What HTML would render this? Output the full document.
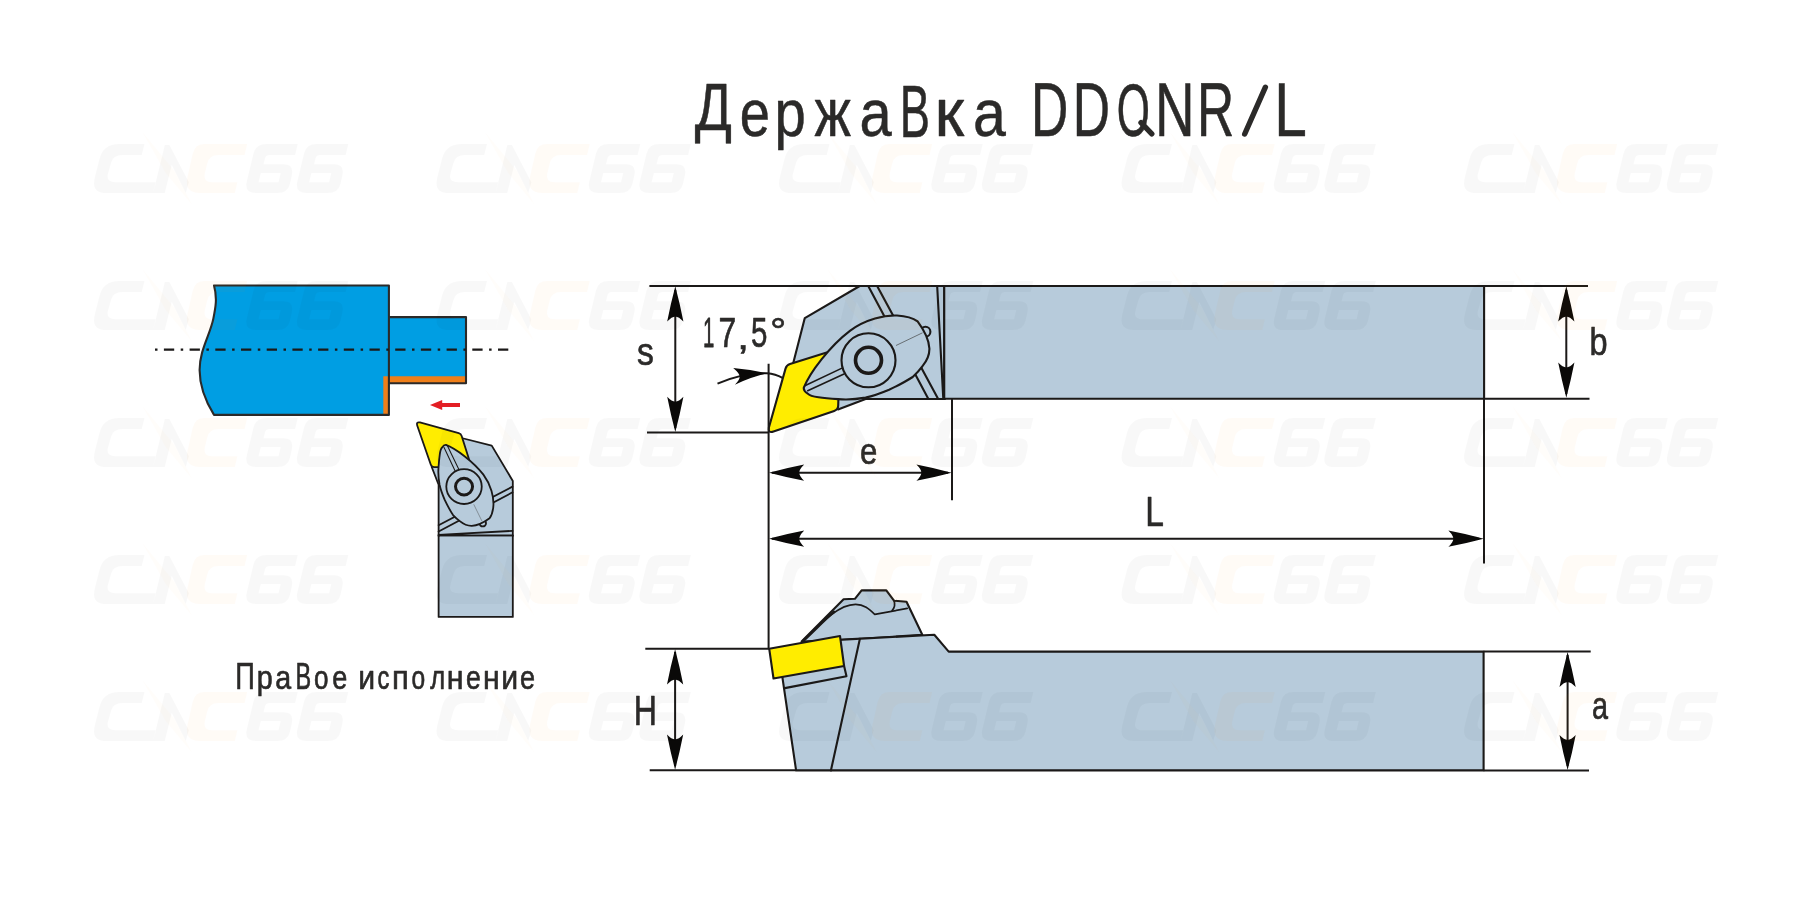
<!DOCTYPE html>
<html lang="ru">
<head>
<meta charset="utf-8">
<title>Державка DDQNR/L</title>
<style>
html,body{margin:0;padding:0;background:#fff;}
body{width:1800px;height:917px;overflow:hidden;position:relative;font-family:"Liberation Sans",sans-serif;}
svg{position:absolute;left:0;top:0;display:block;}
text{font-family:"Liberation Sans",sans-serif;fill:#2b2a29;stroke:#2b2a29;vector-effect:non-scaling-stroke;stroke-linejoin:round;}
.t1 text{stroke-width:0.5px;}
.t2 text{stroke-width:0.6px;}
.t3 text{stroke-width:0.6px;}
.t1,.t2,.t3{mix-blend-mode:multiply;}
.o{stroke:#1b1918;stroke-width:var(--sw,2.1);stroke-linejoin:round;stroke-linecap:round;}
.g{fill:#b7cbdb;}
.y{fill:#ffed00;}
.n{fill:none;}
.d{stroke:#1b1918;stroke-width:2;fill:none;}
.ah{fill:#0a0908;stroke:none;}
</style>
</head>
<body>
<svg width="1800" height="917" viewBox="0 0 1800 917">
<defs>
  <!-- arrow head: tip at 0,0 pointing up (toward -y) -->
  <path id="ah" d="M0,0 Q4.5,17 8.1,35.2 Q3.5,30.4 0,30.2 Q-3.5,30.4 -8.1,35.2 Q-4.5,17 0,0 Z"/>
  <!-- watermark logo -->
  <g id="wm" transform="scale(0.15556)"><path fill="rgba(0,0,0,0.027)" fill-rule="evenodd" d="M415,155 L250,155 Q150,155 125,250 L95,370 Q70,470 170,470 L470,470 L488,400 L230,400 Q165,400 180,345 L200,275 Q212,225 275,225 L397,225 Z M470,470 L545,470 L590,290 L680,470 L700,400 L575,160 L545,160 Z M1400,155 L1195,155 Q1130,155 1115,215 L1072,395 Q1055,470 1130,470 L1270,470 Q1335,470 1350,410 L1362,355 Q1377,285 1310,285 L1180,285 L1190,245 Q1195,225 1220,225 L1383,225 Z M1163,340 L1290,340 L1276,400 L1148,400 Z M1725,155 L1520,155 Q1455,155 1440,215 L1397,395 Q1380,470 1455,470 L1595,470 Q1660,470 1675,410 L1687,355 Q1702,285 1635,285 L1505,285 L1515,245 Q1520,225 1545,225 L1708,225 Z M1488,340 L1615,340 L1601,400 L1473,400 Z"/><path fill="rgba(255,130,0,0.035)" d="M1075,155 L800,155 Q740,155 725,215 L690,370 Q670,470 770,470 L995,470 L1012,400 L850,400 Q790,400 802,345 L818,280 Q830,225 890,225 L1058,225 Z"/><path fill="rgba(255,130,0,0.02)" d="M400,75 L610,330 L720,545 L550,340 Z"/></g>
  <!-- tool head (top view) in main coordinates -->
  <g id="head">
    <!-- body -->
    <path class="g" d="M945,286 L859.7,286 L804.8,318.1 L793,364 L838,409.5 L865.6,399 L945,399 Z"/>
    <path class="n o" d="M945,286 L859.7,286 L804.8,318.1 L793,364 M838,409.5 L865.6,399 L945,399"/>
    <!-- diagonal lines -->
    <path class="n o" d="M868.5,286.5 L928.4,399 M877.4,286.5 L938.2,399"/>
    <path class="n o" d="M937.2,286.5 L943.3,399 M944.1,286.5 L944.1,399"/>
    <!-- insert -->
    <path class="y o" d="M768.9,427.5 L785.6,368.4 Q786.6,364.9 790,363.9 L855.4,343.6 L838.4,399 L838.2,405.6 Q838.2,409.6 834.2,411 L773.5,431.6 Q767.8,433.5 768.9,427.5 Z"/>
    <!-- bump -->
    <circle class="g o" cx="925.4" cy="331.8" r="5"/>
    <!-- clamp -->
    <path class="g o" d="M803.8,387.7 C810,372 830,346 849.9,330.8 C866,319 885,315 897,315.5 C906,316 913,318 917.6,321.4 C924,330 929,340 929.4,348.5 C929.6,356 926,362 922.5,366.2 C919,371 916,374 912.7,377 C905,382 897,386 889.1,389.7 C880,393.5 873,396 865.6,397.6 C855,399.5 846,399.8 838.1,399.1 C831,398.6 824,398 818.5,397.2 C813,396.5 809,395 807.7,393.6 C805,392 803.5,390 803.8,387.7 Z"/>
    <path class="n o" style="stroke-width:1.6" d="M804.8,385.8 L842,368.1 M807.7,390.7 L844,374"/>
    <circle class="g o" cx="868.5" cy="360.3" r="27"/>
    <circle class="n o" cx="868.5" cy="360.3" r="13" style="stroke-width:calc(var(--sw,2.2)*1.65)"/>
    <path d="M896,345.5 L922.5,332.8" style="stroke:#5f6468;stroke-width:0.9;fill:none"/>
  </g>
</defs>

<!-- watermarks -->


<!--TEXT-->
<g class="t1"><text transform="translate(694.85,130.28) scale(0.5481,0.6661)" font-size="100">Д</text><text transform="translate(739.84,136.29) scale(0.5434,0.6717)" font-size="100">е</text><text transform="translate(774.62,136.08) scale(0.5626,0.6684)" font-size="100">р</text><text transform="translate(814.46,136.45) scale(0.5437,0.6776)" font-size="100">ж</text><text transform="translate(859.39,136.29) scale(0.5782,0.6717)" font-size="100">а</text><text transform="translate(899.84,136.65) scale(0.4528,0.7457)" font-size="100">В</text><text transform="translate(934.60,136.45) scale(0.6747,0.6776)" font-size="100">к</text><text transform="translate(973.04,136.29) scale(0.5899,0.6717)" font-size="100">а</text><text transform="translate(1030.91,136.45) scale(0.5166,0.7529)" font-size="100">D</text><text transform="translate(1072.71,136.45) scale(0.5166,0.7529)" font-size="100">D</text><text transform="translate(1116.63,136.42) scale(0.4263,0.7472)" font-size="100">O</text><text transform="translate(1155.06,136.45) scale(0.5478,0.7529)" font-size="100">N</text><text transform="translate(1197.12,136.45) scale(0.5154,0.7529)" font-size="100">R</text><text transform="translate(1274.25,136.45) scale(0.5851,0.7529)" font-size="100">L</text><path d="M1141,122.6 L1151.8,133.8" style="stroke:#2b2a29;stroke-width:5.4;stroke-linecap:round;fill:none"/><path d="M1244.7,134 L1265.4,87.2" style="stroke:#2b2a29;stroke-width:5.4;stroke-linecap:round;fill:none"/></g>
<g class="t2"><text transform="translate(235.19,688.80) scale(0.2721,0.3663)" font-size="100">П</text><text transform="translate(256.75,689.41) scale(0.2869,0.3369)" font-size="100">р</text><text transform="translate(275.28,688.78) scale(0.2862,0.3249)" font-size="100">а</text><text transform="translate(295.47,689.00) scale(0.2349,0.3692)" font-size="100">В</text><text transform="translate(314.11,688.78) scale(0.2605,0.3249)" font-size="100">о</text><text transform="translate(332.25,688.78) scale(0.2707,0.3249)" font-size="100">е</text><text transform="translate(358.20,688.80) scale(0.3024,0.3275)" font-size="100">и</text><text transform="translate(377.50,688.78) scale(0.2366,0.3249)" font-size="100">с</text><text transform="translate(391.95,688.80) scale(0.3103,0.3275)" font-size="100">п</text><text transform="translate(411.47,688.78) scale(0.2457,0.3249)" font-size="100">о</text><text transform="translate(430.16,688.58) scale(0.2555,0.3234)" font-size="100">л</text><text transform="translate(446.79,688.80) scale(0.3047,0.3275)" font-size="100">н</text><text transform="translate(466.07,688.78) scale(0.2664,0.3249)" font-size="100">е</text><text transform="translate(483.10,688.80) scale(0.3022,0.3275)" font-size="100">н</text><text transform="translate(501.30,688.80) scale(0.3024,0.3275)" font-size="100">и</text><text transform="translate(520.05,688.78) scale(0.2707,0.3249)" font-size="100">е</text></g>
<g class="t3"><text transform="translate(636.96,364.73) scale(0.3371,0.3789)" font-size="100">s</text><text transform="translate(702.95,347.40) scale(0.2041,0.4317)" font-size="100">1</text><text transform="translate(718.46,347.40) scale(0.3190,0.4317)" font-size="100">7</text><text transform="translate(737.06,348.99) scale(0.4381,0.3449)" font-size="100">,</text><text transform="translate(750.92,347.38) scale(0.2953,0.4314)" font-size="100">5</text><text transform="translate(770.08,343.54) scale(0.4067,0.3701)" font-size="100">°</text><text transform="translate(859.88,464.23) scale(0.3111,0.3778)" font-size="100">e</text><text transform="translate(1145.25,526.10) scale(0.3357,0.4172)" font-size="100">L</text><text transform="translate(1589.61,354.72) scale(0.3247,0.3922)" font-size="100">b</text><text transform="translate(1592.08,719.43) scale(0.2881,0.3833)" font-size="100">a</text><text transform="translate(633.67,724.70) scale(0.3204,0.4288)" font-size="100">H</text></g>
<!--/TEXT-->

<!-- TOP VIEW -->
<rect class="g o" x="944.1" y="286" width="540" height="112.8"/>
<use href="#head"/>

<!-- dimension: top view -->
<path class="d" d="M649.4,285.9 H1588 M647,432.5 H769 M1483.6,398.8 H1589.5"/>
<path class="d" d="M675.3,290 V428 M1566.3,290 V394"/>
<use href="#ah" class="ah" transform="translate(675.3,286.2)"/>
<use href="#ah" class="ah" transform="translate(675.3,432) rotate(180)"/>
<use href="#ah" class="ah" transform="translate(1566.3,286.2)"/>
<use href="#ah" class="ah" transform="translate(1566.3,397.8) rotate(180)"/>
<!-- long vertical from tip -->
<path class="d" d="M768.6,363.8 V649 M952,398.5 V500.3 M1484,398.5 V563.6"/>
<path class="d" d="M772,472.7 H948 M772,538.7 H1479"/>
<use href="#ah" class="ah" transform="translate(769,472.7) rotate(-90)"/>
<use href="#ah" class="ah" transform="translate(951.6,472.7) rotate(90)"/>
<use href="#ah" class="ah" transform="translate(769,538.7) rotate(-90)"/>
<use href="#ah" class="ah" transform="translate(1483.6,538.7) rotate(90)"/>
<!-- angle arc -->
<path class="d" d="M717.5,383.7 Q742,372.6 767,373.2 Q775.5,373.8 782.5,377.8"/>
<path class="ah" d="M767.2,373.3 Q750,369.5 733.2,368.1 Q739.5,373.5 739.7,376.4 Q739.8,379.5 734.9,384.7 Q751,377 767.2,373.3 Z"/>


<!-- SIDE VIEW -->
<!-- clamp -->
<path class="g o" d="M801.6,641.5 L843.6,599.3 L854.9,598.8 L861.6,590.4 L886.3,590.4 L894,600.7 L906.5,601.7 L922.3,634.8 L842,640 Z"/>
<path class="n o" style="stroke-width:2.6" d="M803,641 C815,630 825,619 834,612"/>
<path class="n o" style="stroke-width:1.7" d="M803,641 C820,624 838,604.3 855.6,604.3 C864,604.3 869,609 874.8,614.4 L907.2,608.4"/>
<path class="n o" style="stroke-width:1.7" d="M894,600.7 Q896,606 892.1,610.5"/>
<!-- body -->
<path class="g o" d="M782.4,677.3 L796.1,770.4 L1483.6,770.4 L1483.6,651.6 L948.7,651.6 L934.3,634.8 L842.4,639.6 L800,645 Z"/>
<path class="n o" d="M859.9,638.7 L830.9,770.4 M784.8,688.1 L846.5,676.3 L844.1,666"/>
<!-- insert -->
<path class="y o" d="M769.2,648.7 L840,636 L844.1,666 L773.5,678.5 Z"/>
<!-- side dims -->
<path class="d" d="M645.3,648.7 H769 M649.7,770.2 H796 M1483.6,651.4 H1590.7 M1483.6,770.6 H1589"/>
<path class="d" d="M675.1,652 V766 M1567.6,655 V766"/>
<use href="#ah" class="ah" transform="translate(675.1,649.2)"/>
<use href="#ah" class="ah" transform="translate(675.1,769.8) rotate(180)"/>
<use href="#ah" class="ah" transform="translate(1567.6,651.9)"/>
<use href="#ah" class="ah" transform="translate(1567.6,770.1) rotate(180)"/>

<!-- WORKPIECE -->
<path d="M214,285.5 H388.9 V317.1 H466 V383.3 H388.9 V414.9 H214 C206,402 199.6,386 199.6,370 C199.6,350 210,335 213.3,318.9 C215.5,308 217.5,298 214,285.5 Z" style="fill:#009ee3"/>
<path d="M383.3,414.9 V376.2 H466 V383.3 H388.9 V414.9 Z" style="fill:#ef7f1a"/>
<path class="n o" d="M214,285.5 H388.9 V317.1 H466 V383.3 H388.9 V414.9 H214 C206,402 199.6,386 199.6,370 C199.6,350 210,335 213.3,318.9 C215.5,308 217.5,298 214,285.5 Z M388.9,317.1 V383.3" style="stroke:#2b2a29"/>
<path d="M155,349.6 H509" style="stroke:#1b1918;stroke-width:2.2;fill:none;stroke-dasharray:2.5 6.4 10.3 6.5"/>
<!-- red arrow -->
<path d="M430,404.9 L442.2,399.9 V402.9 H460 V407 H442.2 V410 Z" style="fill:#e31e24"/>

<!-- SMALL TOOL -->
<g transform="translate(700.6,-72.7) rotate(90) scale(0.644,0.6566)" style="--sw:2.75">
  <rect class="g o" x="944.1" y="286" width="126.7" height="113"/>
  <use href="#head"/>
</g>

<g id="wms"><g transform="translate(80.0,120)"><use href="#wm"/></g><g transform="translate(422.5,120)"><use href="#wm"/></g><g transform="translate(765.0,120)"><use href="#wm"/></g><g transform="translate(1107.5,120)"><use href="#wm"/></g><g transform="translate(1450.0,120)"><use href="#wm"/></g><g transform="translate(80.0,257)"><use href="#wm"/></g><g transform="translate(422.5,257)"><use href="#wm"/></g><g transform="translate(765.0,257)"><use href="#wm"/></g><g transform="translate(1107.5,257)"><use href="#wm"/></g><g transform="translate(1450.0,257)"><use href="#wm"/></g><g transform="translate(80.0,394)"><use href="#wm"/></g><g transform="translate(422.5,394)"><use href="#wm"/></g><g transform="translate(765.0,394)"><use href="#wm"/></g><g transform="translate(1107.5,394)"><use href="#wm"/></g><g transform="translate(1450.0,394)"><use href="#wm"/></g><g transform="translate(80.0,531)"><use href="#wm"/></g><g transform="translate(422.5,531)"><use href="#wm"/></g><g transform="translate(765.0,531)"><use href="#wm"/></g><g transform="translate(1107.5,531)"><use href="#wm"/></g><g transform="translate(1450.0,531)"><use href="#wm"/></g><g transform="translate(80.0,668)"><use href="#wm"/></g><g transform="translate(422.5,668)"><use href="#wm"/></g><g transform="translate(765.0,668)"><use href="#wm"/></g><g transform="translate(1107.5,668)"><use href="#wm"/></g><g transform="translate(1450.0,668)"><use href="#wm"/></g></g>
</svg>
</body>
</html>
